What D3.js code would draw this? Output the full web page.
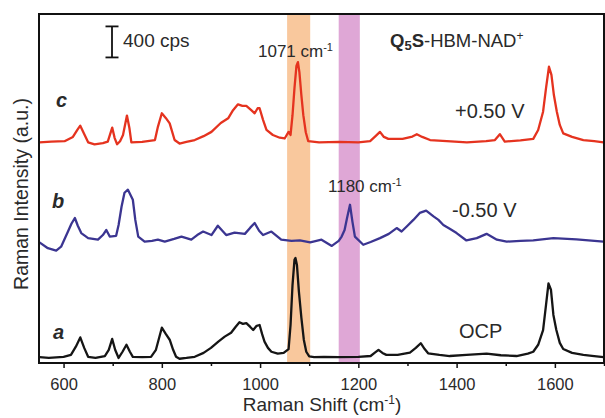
<!DOCTYPE html>
<html>
<head>
<meta charset="utf-8">
<script src="https://cdn.jsdelivr.net/npm/d3@7"></script>
<style>
  body { margin: 0; background: #fff; }
  text { font-family: "Liberation Sans", Arial, sans-serif; fill: #2a2a2a; }
</style>
</head>
<body>
<script>
// ---- data (cps above each trace's own baseline) ----
var shiftA = [551,570,600,615,625,634,642,650,665,684,692,699,705,712,720,728,735,741,760,778,788,800,808,816,823,829,836,850,867,885,900,915,928,941,950,958,965,972,980,986,993,999,1004,1009,1016,1023,1036,1048,1058,1062,1066,1070,1072,1075,1079,1084,1089,1094,1100,1110,1130,1160,1200,1225,1233,1241,1249,1257,1280,1305,1317,1327,1335,1342,1365,1386,1420,1461,1490,1522,1545,1556,1566,1576,1582,1587,1592,1597,1603,1610,1617,1635,1658,1680,1699];
var specA  = [0,-10,5,30,135,255,120,5,-10,15,95,235,95,-10,70,160,70,5,0,5,95,380,300,225,95,5,-20,-10,5,55,120,200,265,315,390,450,430,440,390,350,405,415,300,200,120,70,45,55,105,415,930,1255,1280,1190,845,510,225,70,10,0,5,0,5,15,55,95,55,30,30,60,120,180,105,50,30,15,30,45,25,15,45,70,160,350,675,950,870,545,350,185,105,55,30,15,0];

var shiftB = [551,568,585,595,609,616,623,629,636,650,670,680,687,694,707,712,718,724,731,741,746,752,765,780,792,806,825,840,860,872,884,901,914,931,948,969,980,989,998,1006,1023,1043,1064,1081,1102,1125,1146,1160,1166,1172,1177,1183,1188,1193,1210,1225,1244,1262,1278,1288,1300,1312,1325,1338,1353,1363,1373,1386,1400,1420,1441,1461,1482,1502,1530,1556,1597,1644,1699];
var specB  = [-20,-95,-125,-75,120,220,295,195,100,35,15,75,140,55,65,205,440,620,660,530,270,55,-10,0,15,-10,25,55,15,75,120,75,195,75,105,90,170,230,130,75,120,15,0,5,-20,15,-65,0,55,140,295,465,245,55,-50,-15,35,90,165,120,195,270,360,390,315,270,205,155,100,5,35,90,15,-10,0,5,35,20,-10];

var shiftC = [551,575,602,619,628,634,641,650,663,680,690,699,704,709,715,721,729,734,738,760,786,792,800,808,816,826,836,850,867,885,901,920,935,945,955,964,972,982,989,995,999,1006,1013,1026,1040,1050,1058,1062,1066,1070,1074,1077,1080,1084,1088,1093,1098,1120,1160,1200,1224,1235,1244,1252,1261,1290,1310,1319,1330,1346,1380,1421,1460,1478,1488,1498,1530,1556,1566,1576,1582,1588,1593,1598,1604,1610,1617,1635,1658,1680,1699];
var specC  = [0,10,15,70,160,215,120,0,-25,-10,10,190,55,-25,15,95,345,185,0,5,30,200,375,315,245,30,-15,5,30,80,135,250,310,415,490,470,470,415,375,440,440,290,160,95,60,50,135,95,350,700,985,1035,905,610,350,130,15,0,5,0,15,80,135,70,45,45,75,105,70,30,15,0,15,30,105,10,25,45,160,395,700,975,870,610,395,225,115,70,30,15,0];

var traceNames   = ["a", "b", "c"];
var traceOffsets = [75, 1575, 2845];
var traceLabels  = ["OCP", "-0.50 V", "+0.50 V"];
var bands        = [[1055, 1102], [1160, 1203]];
var xTicksMajor  = [600, 800, 1000, 1200, 1400, 1600];
var xTicksMinor  = [700, 900, 1100, 1300, 1500, 1700];
var scaleBarCps  = 400;

var width = 605, height = 418;
var margin = {left: 39, right: 1, top: 14, bottom: 55};

var svg = d3.select('body').append('svg')
    .attr('width', width)
    .attr('height', height);

var x = d3.scaleLinear().domain([550, 1700]).range([margin.left, width - margin.right]);
var y = d3.scaleLinear().domain([0, 4500]).range([height - margin.bottom, margin.top]);

var colors = ["#151515", "#3b3591", "#e5331f"];

/* ---------- highlight bands ---------- */
svg.selectAll('.band')
    .data(bands)
  .enter().append('rect')
    .attr('x', d => x(d[0]))
    .attr('width', d => x(d[1]) - x(d[0]))
    .attr('y', y(4500))
    .attr('height', y(0) - y(4500))
    .attr('fill', (d, i) => i == 0 ? '#f9c89d' : '#dfa7d6');

/* ---------- spectra ---------- */
var series = [
  shiftA.map((s, i) => [s, specA[i] + traceOffsets[0]]),
  shiftB.map((s, i) => [s, specB[i] + traceOffsets[1]]),
  shiftC.map((s, i) => [s, specC[i] + traceOffsets[2]])
];

var line = d3.line()
    .x(d => x(d[0]))
    .y(d => y(d[1]))
    .curve(d3.curveLinear);

svg.selectAll('.spec')
    .data(series)
  .enter().append('path')
    .attr('class', 'spec')
    .attr('d', line)
    .attr('fill', 'none')
    .attr('stroke', (d, i) => colors[i])
    .attr('stroke-width', 2.3)
    .attr('stroke-linejoin', 'round');

/* ---------- frame + axes ---------- */
svg.append('rect')
    .attr('x', x(550)).attr('y', y(4500))
    .attr('width', x(1700) - x(550)).attr('height', y(0) - y(4500))
    .attr('fill', 'none').attr('stroke', '#111').attr('stroke-width', 2);

var xAxis = svg.append('g')
    .attr('transform', 'translate(0,' + y(0) + ')')
    .call(d3.axisBottom(x).tickValues(xTicksMajor).tickSize(5).tickPadding(10).tickFormat(d3.format('d')));
xAxis.select('.domain').remove();
xAxis.selectAll('line').attr('stroke', '#111').attr('stroke-width', 1.5);
xAxis.selectAll('text')
    .style('font-family', '"Liberation Sans", Arial, sans-serif')
    .style('font-size', '16.5px').attr('fill', '#2a2a2a');

svg.append('g')
    .attr('transform', 'translate(0,' + y(0) + ')')
    .call(d3.axisBottom(x).tickValues(xTicksMinor).tickSize(3).tickFormat(''))
    .call(g => g.select('.domain').remove())
    .selectAll('line').attr('stroke', '#111').attr('stroke-width', 1.5);

svg.append('text')
    .attr('x', 322).attr('y', 411)
    .attr('text-anchor', 'middle')
    .style('font-size', '19px')
    .html('Raman Shift (cm<tspan dy="-7" font-size="12px">-1</tspan><tspan dy="7">)</tspan>');

svg.append('text')
    .attr('transform', 'translate(28,194) rotate(-90)')
    .attr('text-anchor', 'middle')
    .style('font-size', '19.5px')
    .text('Raman Intensity (a.u.)');

/* ---------- scale bar ---------- */
var sbX = 112, sbBottom = y(3940);
var sb = svg.append('g').attr('stroke', '#111').attr('stroke-width', 1.8);
sb.append('line').attr('x1', sbX).attr('x2', sbX).attr('y1', sbBottom).attr('y2', sbBottom - (y(0) - y(scaleBarCps)));
sb.append('line').attr('x1', sbX - 6.5).attr('x2', sbX + 6.5).attr('y1', sbBottom).attr('y2', sbBottom);
sb.append('line').attr('x1', sbX - 6.5).attr('x2', sbX + 6.5)
    .attr('y1', sbBottom - (y(0) - y(scaleBarCps))).attr('y2', sbBottom - (y(0) - y(scaleBarCps)));
svg.append('text').attr('x', 123).attr('y', 47).style('font-size', '19px').text(scaleBarCps + ' cps');

/* ---------- annotations ---------- */
svg.append('text').attr('x', 258).attr('y', 57).style('font-size', '17px')
    .html('1071 cm<tspan dy="-6" font-size="11px">-1</tspan>');
svg.append('text').attr('x', 328).attr('y', 192).style('font-size', '17px')
    .html('1180 cm<tspan dy="-6" font-size="11px">-1</tspan>');

svg.append('text').attr('x', 390).attr('y', 47).style('font-size', '18.5px')
    .html('<tspan font-weight="bold">Q</tspan><tspan font-weight="bold" font-size="13px" dy="3">5</tspan>' +
          '<tspan font-weight="bold" dy="-3">S</tspan>-HBM-NAD<tspan dy="-7" font-size="12px">+</tspan>');

var labelPos = [[459, 338], [452, 217], [455, 118]];
svg.selectAll('.vlabel')
    .data(traceLabels)
  .enter().append('text')
    .attr('x', (d, i) => labelPos[i][0])
    .attr('y', (d, i) => labelPos[i][1])
    .style('font-size', '20px')
    .text(d => d);

var namePos = [[53, 339], [52, 208], [56, 107]];
svg.selectAll('.tname')
    .data(traceNames)
  .enter().append('text')
    .attr('x', (d, i) => namePos[i][0])
    .attr('y', (d, i) => namePos[i][1])
    .style('font-size', '20px')
    .style('font-weight', 'bold')
    .style('font-style', 'italic')
    .attr('fill', '#111')
    .text(d => d);
</script>
</body>
</html>
